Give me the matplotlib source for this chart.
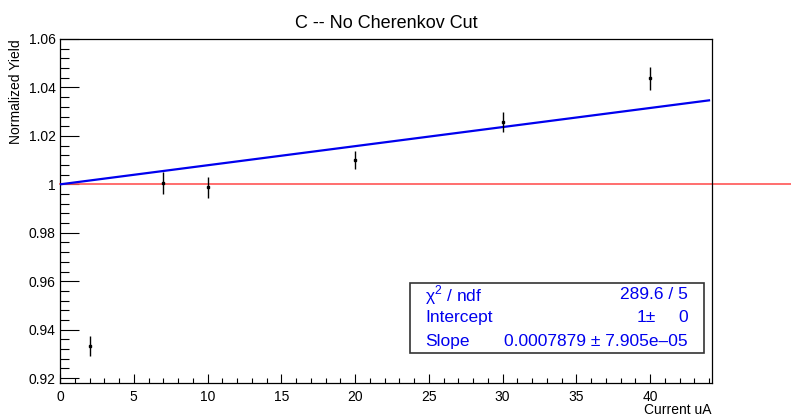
import matplotlib.pyplot as plt
import numpy as np
from matplotlib.ticker import MultipleLocator
from matplotlib.patches import Rectangle

plt.rcParams['font.family'] = ['Liberation Sans', 'DejaVu Sans']
plt.rcParams['mathtext.fontset'] = 'custom'
plt.rcParams['mathtext.rm'] = 'Liberation Sans'

# measured points
current = [2, 7, 10, 20, 30, 40]
yield_norm = [0.9333, 1.0004, 0.9987, 1.0100, 1.0257, 1.0437]
yield_err = [0.0043, 0.0045, 0.0043, 0.0038, 0.0043, 0.0048]

# fit results
intercept = 1.0
slope = 0.0007879
fit_range = [0, 44]

fig = plt.figure(figsize=(7.91, 4.16), dpi=100)
ax = fig.add_axes([0.0759, 0.0793, 0.8242, 0.8270])

ax.set_xlim(0, 44.2)
ax.set_ylim(0.918, 1.06)

# reference line at 1, runs past the frame
ax.plot([0, 60], [1, 1], color='#ff5555', lw=1.2, clip_on=False, zorder=2)

# linear fit
xf = np.array(fit_range)
ax.plot(xf, intercept + slope * xf, color='#0000ee', lw=1.6, zorder=3)

ax.errorbar(current, yield_norm, yerr=yield_err, fmt='s', color='black',
            ms=2, elinewidth=1, capsize=0, zorder=4)

# ROOT-like ticks
ax.xaxis.set_major_locator(MultipleLocator(5))
ax.xaxis.set_minor_locator(MultipleLocator(1))
ax.yaxis.set_major_locator(MultipleLocator(0.02))
ax.yaxis.set_minor_locator(MultipleLocator(0.004))
ax.tick_params(axis='x', which='major', direction='in', length=6.5, width=0.8,
               labelsize=10, pad=5, top=False)
ax.tick_params(axis='x', which='minor', direction='in', length=3.3, width=0.8, top=False)
ax.tick_params(axis='y', which='major', direction='in', length=13.7, width=0.8,
               labelsize=10, pad=3, right=False)
ax.tick_params(axis='y', which='minor', direction='in', length=6.8, width=0.8, right=False)
ax.set_yticks(np.arange(0.92, 1.061, 0.02))
ax.set_yticklabels(['0.92', '0.94', '0.96', '0.98', '1', '1.02', '1.04', '1.06'])

for s in ax.spines.values():
    s.set_linewidth(0.9)

fig.text(712 / 791, 2 / 416, 'Current uA', fontsize=10, ha='right', va='baseline')
ax.set_ylabel('Normalized Yield', fontsize=10, loc='top', labelpad=4)
ax.set_title('C -- No Cherenkov Cut', fontsize=13, pad=8)

# stats box
ax.add_patch(Rectangle((0.537, 0.087), 0.451, 0.204, transform=ax.transAxes,
                       facecolor='white', edgecolor='#333333', lw=1.2, zorder=5))
blue = '#0000ee'
fs = 12.5
rows_y = [0.256, 0.189, 0.122]
ax.text(0.560, rows_y[0], '\u03c7$^2$ / ndf', transform=ax.transAxes, color=blue,
        fontsize=fs, va='center', ha='left', zorder=6)
ax.text(0.963, rows_y[0], '289.6 / 5', transform=ax.transAxes, color=blue,
        fontsize=fs, va='center', ha='right', zorder=6)
ax.text(0.560, rows_y[1], 'Intercept', transform=ax.transAxes, color=blue,
        fontsize=fs, va='center', ha='left', zorder=6)
ax.text(0.914, rows_y[1], '1\u00b1', transform=ax.transAxes, color=blue,
        fontsize=fs, va='center', ha='right', zorder=6)
ax.text(0.963, rows_y[1], '0', transform=ax.transAxes, color=blue,
        fontsize=fs, va='center', ha='right', zorder=6)
ax.text(0.560, rows_y[2], 'Slope', transform=ax.transAxes, color=blue,
        fontsize=fs, va='center', ha='left', zorder=6)
ax.text(0.963, rows_y[2], '0.0007879 \u00b1 7.905e\u201305', transform=ax.transAxes,
        color=blue, fontsize=fs, va='center', ha='right', zorder=6)

fig.savefig('out.png', dpi=100)
